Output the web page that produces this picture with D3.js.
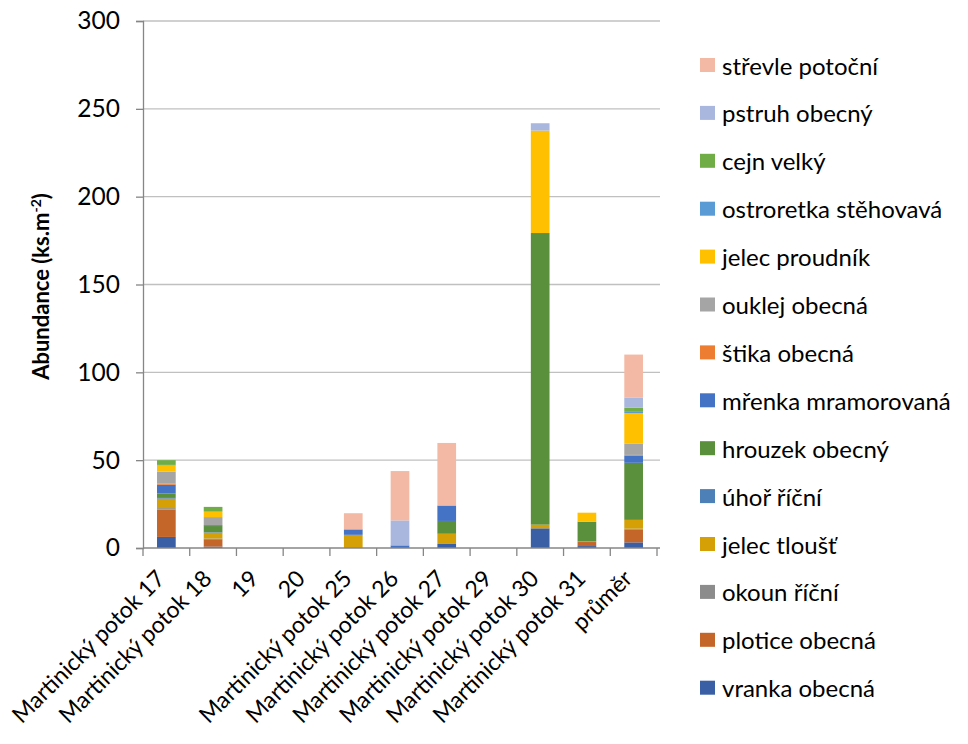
<!DOCTYPE html>
<html>
<head>
<meta charset="utf-8">
<script src="https://cdn.jsdelivr.net/npm/d3@7"></script>
<style>
  body { margin: 0; background: #fff; }
  svg { display: block; font-family: Lato, "Open Sans", sans-serif; }
</style>
</head>
<body>
<svg id="chart" width="968" height="744"></svg>
<script>
// Sampling sites (last column is the mean)
const sites = ["Martinický potok 17", "Martinický potok 18", "19", "20",
  "Martinický potok 25", "Martinický potok 26", "Martinický potok 27",
  "Martinický potok 29", "Martinický potok 30", "Martinický potok 31", "průměr"];

// Species in stacking order (bottom → top)
const species = ["vranka obecná", "plotice obecná", "okoun říční", "jelec tloušť",
  "úhoř říční", "hrouzek obecný", "mřenka mramorovaná", "štika obecná",
  "ouklej obecná", "jelec proudník", "ostroretka stěhovavá", "cejn velký",
  "pstruh obecný", "střevle potoční"];

const colors = ["#3a5fa5", "#c4652a", "#8c8c8c", "#d4a005",
  "#4c80b6", "#5a8f3b", "#4472c4", "#ed7d31",
  "#a5a5a5", "#ffc000", "#5b9bd5", "#70ad47",
  "#a9b7de", "#f4b9a4"];

// Abundance (ks.m-2) per species, one value per site
const vranka      = [6.3, 0.8, 0, 0, 0,   0,    2.3, 0, 11.2,  1.1, 3.2];
const plotice     = [15.6, 4.2, 0, 0, 0,  0,    0,   0, 0,     2.3, 7.4];
const okoun       = [0.8, 0.4, 0, 0, 0,   0,    0,   0, 0,     0,   0.4];
const tloust      = [5.4, 3.3, 0, 0, 7.5, 0,    5.8, 0, 2.1,   0.3, 5.0];
const uhor        = [0.4, 0.3, 0, 0, 0,   0,    0,   0, 0,     0,   0.5];
const hrouzek     = [2.5, 3.5, 0, 0, 0,   0,    7.3, 0, 166.0, 11.3, 32.0];
const mrenka      = [5.0, 0.5, 0, 0, 3.1, 1.5,  8.8, 0, 0,     0,   4.0];
const stika       = [0.6, 0,   0, 0, 0,   0,    0,   0, 0,     0,   0.5];
const ouklej      = [6.9, 4.6, 0, 0, 0,   0,    0,   0, 0,     0,   6.3];
const proudnik    = [3.5, 3.1, 0, 0, 0,   0,    0,   0, 58.3,  5.1, 17.5];
const ostroretka  = [0.3, 0,   0, 0, 0,   0,    0,   0, 0,     0,   0.7];
const cejn        = [2.7, 2.7, 0, 0, 0,   0,    0,   0, 0,     0,   2.3];
const pstruh      = [0,   0,   0, 0, 0,   14.2, 0,   0, 4.2,   0,   5.9];
const strevle     = [0,   0,   0, 0, 9.2, 28.1, 35.6, 0, 0,    0,   24.4];

const seriesValues = [vranka, plotice, okoun, tloust, uhor, hrouzek, mrenka,
  stika, ouklej, proudnik, ostroretka, cejn, pstruh, strevle];

const yTicks = [0, 50, 100, 150, 200, 250, 300];

// Table for d3.stack
const rows = sites.map((s, i) => {
  const r = { site: s };
  species.forEach((sp, k) => { r[sp] = seriesValues[k][i]; });
  return r;
});

const svg = d3.select("#chart");
const plot = { left: 143, right: 657, top: 21, bottom: 548 };

const x = d3.scaleBand().domain(sites).range([plot.left, plot.right])
  .paddingInner(0.6).paddingOuter(0.3);
const y = d3.scaleLinear().domain([0, 300]).range([plot.bottom, plot.top]);

// Horizontal gridlines
svg.append("g").selectAll("line").data(yTicks.filter(d => d > 0)).join("line")
  .attr("x1", plot.left).attr("x2", 660)
  .attr("y1", d => y(d)).attr("y2", d => y(d))
  .attr("stroke", "#c0c0c0").attr("stroke-width", 1.3);

// Stacked bars
const stacked = d3.stack().keys(species)(rows);
svg.append("g").selectAll("g").data(stacked).join("g")
  .attr("fill", (d, i) => colors[i])
  .selectAll("rect").data(d => d).join("rect")
  .attr("x", d => x(d.data.site))
  .attr("width", x.bandwidth())
  .attr("y", d => y(d[1]))
  .attr("height", d => Math.max(0, y(d[0]) - y(d[1])));

// Y axis
const yAxis = svg.append("g").attr("transform", `translate(${plot.left},0)`)
  .call(d3.axisLeft(y).tickValues(yTicks).tickSize(7).tickPadding(16));
yAxis.select(".domain").attr("stroke", "#868686").attr("stroke-width", 1.3);
yAxis.selectAll(".tick line").attr("stroke", "#868686").attr("stroke-width", 1.3);
yAxis.selectAll(".tick text").attr("font-size", 24.5).attr("fill", "#000")
  .attr("font-family", "Lato, sans-serif");

// X axis with ticks at category boundaries
svg.append("line").attr("x1", plot.left).attr("x2", plot.right + 3)
  .attr("y1", plot.bottom).attr("y2", plot.bottom)
  .attr("stroke", "#868686").attr("stroke-width", 1.3);
const boundaries = d3.range(sites.length + 1).map(i => plot.left + i * x.step());
svg.append("g").selectAll("line").data(boundaries).join("line")
  .attr("x1", d => d).attr("x2", d => d)
  .attr("y1", plot.bottom).attr("y2", plot.bottom + 8)
  .attr("stroke", "#868686").attr("stroke-width", 1.3);

svg.append("g").selectAll("text").data(sites).join("text")
  .attr("transform", d => `translate(${x(d) + x.bandwidth() / 2 - 13},${plot.bottom + 19}) rotate(-45)`)
  .attr("text-anchor", "end")
  .attr("dominant-baseline", "hanging")
  .attr("font-size", 23)
  .text(d => d);

// Y axis title
const yt = svg.append("text")
  .attr("transform", `translate(49,${(plot.top + plot.bottom) / 2 + 2}) rotate(-90)`)
  .attr("text-anchor", "middle")
  .attr("font-size", 22).attr("font-weight", "bold");
yt.append("tspan").text("Abundance (ks.m");
yt.append("tspan").attr("dy", -8).attr("font-size", 14).text("-2");
yt.append("tspan").attr("dy", 8).text(")");

// Legend (top = last series)
const legend = svg.append("g").selectAll("g")
  .data(species.map((s, i) => ({ s, c: colors[i] })).reverse())
  .join("g")
  .attr("transform", (d, i) => `translate(700,${65 + i * 47.9})`);
legend.append("rect").attr("x", 0).attr("y", -7).attr("width", 15).attr("height", 14)
  .attr("fill", d => d.c);
legend.append("text").attr("x", 22).attr("y", 0).attr("dominant-baseline", "central")
  .attr("font-size", 24).text(d => d.s);
</script>
</body>
</html>
